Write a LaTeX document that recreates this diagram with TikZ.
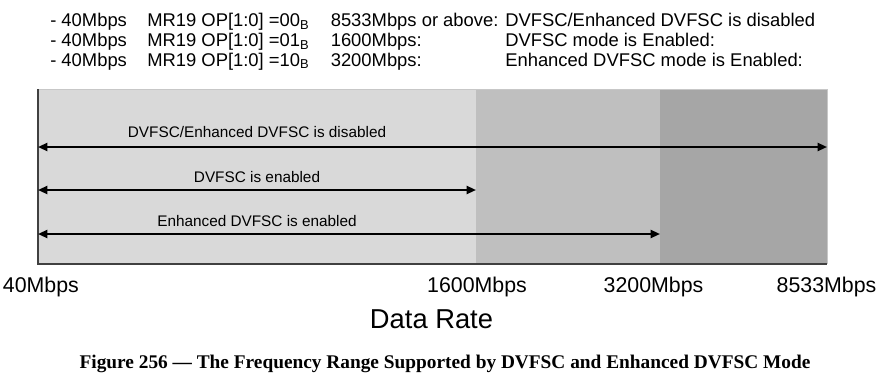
\documentclass[tikz,border=0pt]{standalone}
\usepackage{fontspec}
\setmainfont{Liberation Sans}
\newfontfamily\capfont[Ligatures=TeX]{Liberation Serif}
\usetikzlibrary{arrows.meta}

\definecolor{bandlow}{HTML}{D9D9D9}
\definecolor{bandmid}{HTML}{BFBFBF}
\definecolor{bandhigh}{HTML}{A6A6A6}
\definecolor{axisline}{HTML}{404040}

\tikzset{
  spanarrow/.style={line width=1.5pt, {Triangle[length=7pt,width=6pt]}-{Triangle[length=7pt,width=6pt]}},
  spantext/.style={inner sep=0pt, anchor=base, font=\fontsize{11.5}{13}\selectfont},
  ratetext/.style={inner sep=0pt, anchor=base, font=\fontsize{16}{19}\selectfont},
  modetext/.style={inner sep=0pt, anchor=base west, font=\fontsize{13.8}{16}\selectfont},
}

\begin{document}
\begin{tikzpicture}[x=0.75pt, y=-0.75pt]
\useasboundingbox (0,0) rectangle (882,379);

% Mode register settings
\node [modetext] (d1) at ( 50, 26.7 ) {- 40Mbps};
\node [modetext] (m1) at ( 147, 26.7 ) {MR19 OP[1:0] =00\textsubscript{B}};
\node [modetext] (f1) at ( 330.5, 26.7 ) {8533Mbps or above:};
\node [modetext] (s1) at ( 505, 26.7 ) {DVFSC/Enhanced DVFSC is disabled};

\node [modetext] (d2) at ( 50, 46.5 ) {- 40Mbps};
\node [modetext] (m2) at ( 147, 46.5 ) {MR19 OP[1:0] =01\textsubscript{B}};
\node [modetext] (f2) at ( 330.5, 46.5 ) {1600Mbps:};
\node [modetext] (s2) at ( 505, 46.5 ) {DVFSC mode is Enabled:};

\node [modetext] (d3) at ( 50, 66 ) {- 40Mbps};
\node [modetext] (m3) at ( 147, 66 ) {MR19 OP[1:0] =10\textsubscript{B}};
\node [modetext] (f3) at ( 330.5, 66 ) {3200Mbps:};
\node [modetext] (s3) at ( 505, 66 ) {Enhanced DVFSC mode is Enabled:};

% Frequency bands
\coordinate (t40) at ( 38, 89 );
\coordinate (t1600) at ( 476, 89 );
\coordinate (t3200) at ( 660, 89 );
\coordinate (t8533) at ( 827, 89 );
\coordinate (base) at ( 38, 264 );

\fill [bandlow] (t40) rectangle (t1600 |- base);
\fill [bandmid] (t1600) rectangle (t3200 |- base);
\fill [bandhigh] (t3200) rectangle (t8533 |- base);
\draw [black!22, line width=0.75pt] (t40) -- (t8533) -- (t8533 |- base);
\draw [axisline, line width=1.5pt] (t40) -- (base) -- (t8533 |- base);

% Ranges
\coordinate (y1) at ( 0, 147 );
\coordinate (y2) at ( 0, 190 );
\coordinate (y3) at ( 0, 234 );

\draw [spanarrow] (t40 |- y1) -- (t8533 |- y1);
\draw [spanarrow] (t40 |- y2) -- (t1600 |- y2);
\draw [spanarrow] (t40 |- y3) -- (t3200 |- y3);

\node [spantext] (l1) at ( 257, 137.7 ) {DVFSC/Enhanced DVFSC is disabled};
\node [spantext] (l2) at ( 257, 182.7 ) {DVFSC is enabled};
\node [spantext] (l3) at ( 257, 226.7 ) {Enhanced DVFSC is enabled};

% Data rate axis
\node [ratetext, anchor=base west] (r40) at ( 2.7, 292 ) {40Mbps};
\node [ratetext] (r1600) at ( 477, 292 ) {1600Mbps};
\node [ratetext] (r3200) at ( 653.5, 292 ) {3200Mbps};
\node [ratetext] (r8533) at ( 826.5, 292 ) {8533Mbps};
\node [inner sep=0pt, anchor=base, font=\fontsize{20.5}{24}\selectfont] (rate) at ( 431.5, 328 ) {Data Rate};

% Caption
\node [inner sep=0pt, anchor=base, font=\capfont\bfseries\fontsize{14.5}{17}\selectfont] (cap) at ( 445, 368 )
  {Figure 256 — The Frequency Range Supported by DVFSC and Enhanced DVFSC Mode};

\end{tikzpicture}
\end{document}
